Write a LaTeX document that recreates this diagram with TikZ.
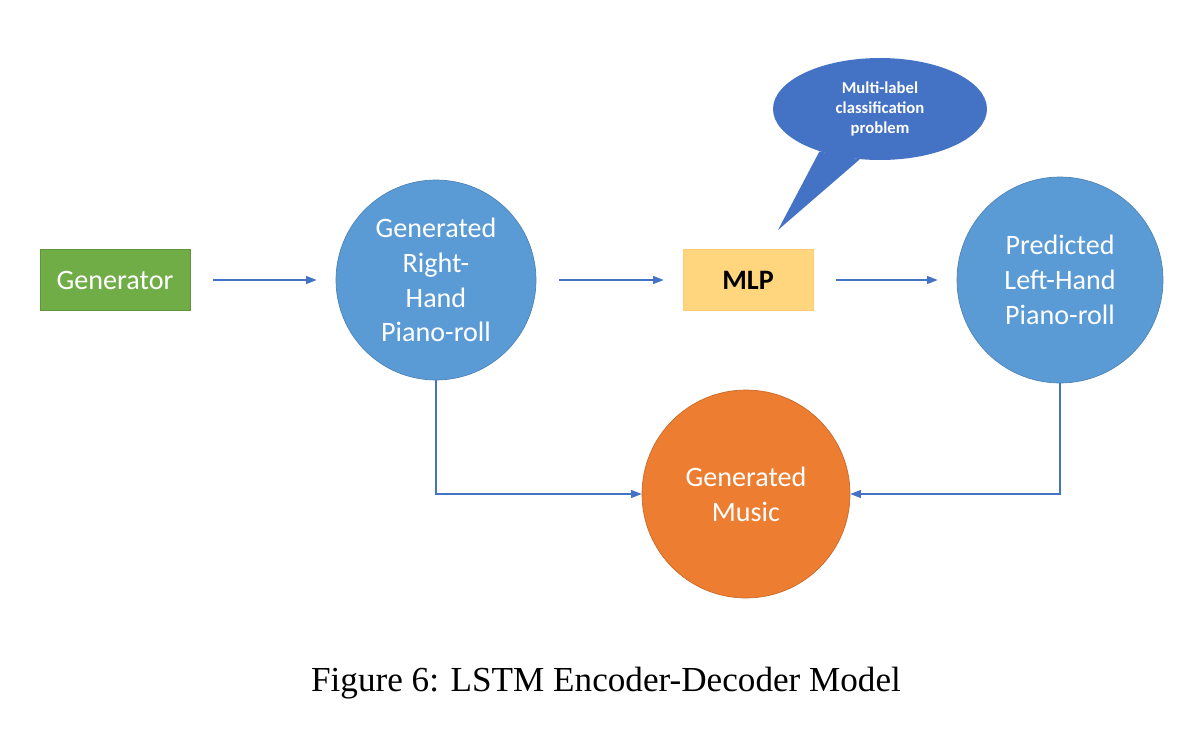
\documentclass[tikz,border=0pt]{standalone}
\usepackage{fontspec}
\setmainfont{Liberation Serif}
\newfontfamily\calibri{Carlito}
\usepackage{xcolor}
\usetikzlibrary{positioning}
\usetikzlibrary{arrows.meta, shapes.geometric}
\definecolor{boxgreen}{HTML}{70AD47}
\definecolor{circblue}{HTML}{5B9BD5}
\definecolor{musicorange}{HTML}{ED7D31}
\definecolor{calloutblue}{HTML}{4472C4}
\definecolor{mlpyellow}{HTML}{FFD67D}
\definecolor{arrowblue}{HTML}{4472C4}

\begin{document}
\begin{tikzpicture}[x=0.02cm, y=-0.02cm,
  box/.style = {draw, rectangle, minimum width=3cm, minimum height=1.22cm, inner sep=0pt, font=\calibri\fontsize{16}{19.8}\selectfont},
  main/.style = {draw=circblue!85!black, fill=circblue, circle, text=white, align=center, inner sep=0pt, font=\calibri\fontsize{16}{19.8}\selectfont},
  flow/.style = {-{Triangle[length=6pt,width=4.5pt]}, draw=arrowblue, line width=0.7pt},
  gap/.style = {shorten <=0.46cm, shorten >=0.38cm}]
\useasboundingbox (0,0) rectangle (1200,734);

\node[box, fill=boxgreen, draw=boxgreen!85!black, text=white] (gen) at (115,280) {Generator};
\node[main, minimum size=4cm] (right) at (436,280) {Generated\\Right-\\Hand\\Piano-roll};
\node[box, fill=mlpyellow, draw=mlpyellow!90!orange, minimum width=2.6cm, font=\calibri\bfseries\fontsize{16}{19.8}\selectfont] (mlp) at (748,280) {MLP};
\node[main, minimum size=4.12cm] (pred) at (1060,280) {Predicted\\Left-Hand\\Piano-roll};
\node[main, fill=musicorange, draw=musicorange!85!black, minimum size=4.16cm] (music) at (746,494) {Generated\\Music};

% callout
\node[ellipse, fill=calloutblue, minimum width=4.28cm, minimum height=2.04cm, text=white, align=center, inner sep=0pt, font=\calibri\bfseries\fontsize{9.5}{11.3}\selectfont] (note) at (880,109) {Multi-label\\classification\\problem};
\coordinate (tip) at (778,230);
\fill[calloutblue] (note.{215}) -- (tip) -- (note.{248}) -- cycle;

\path (gen) edge [flow, gap] (right);
\path (right) edge [flow, gap] (mlp);
\path (mlp) edge [flow, gap] (pred);
\draw[flow] (right.south) |- (music.west);
\draw[flow] (pred.south) |- (music.east);

\node (caption) at (606,683) {\fontsize{20}{24}\selectfont Figure 6: LSTM Encoder-Decoder Model};
\end{tikzpicture}
\end{document}
